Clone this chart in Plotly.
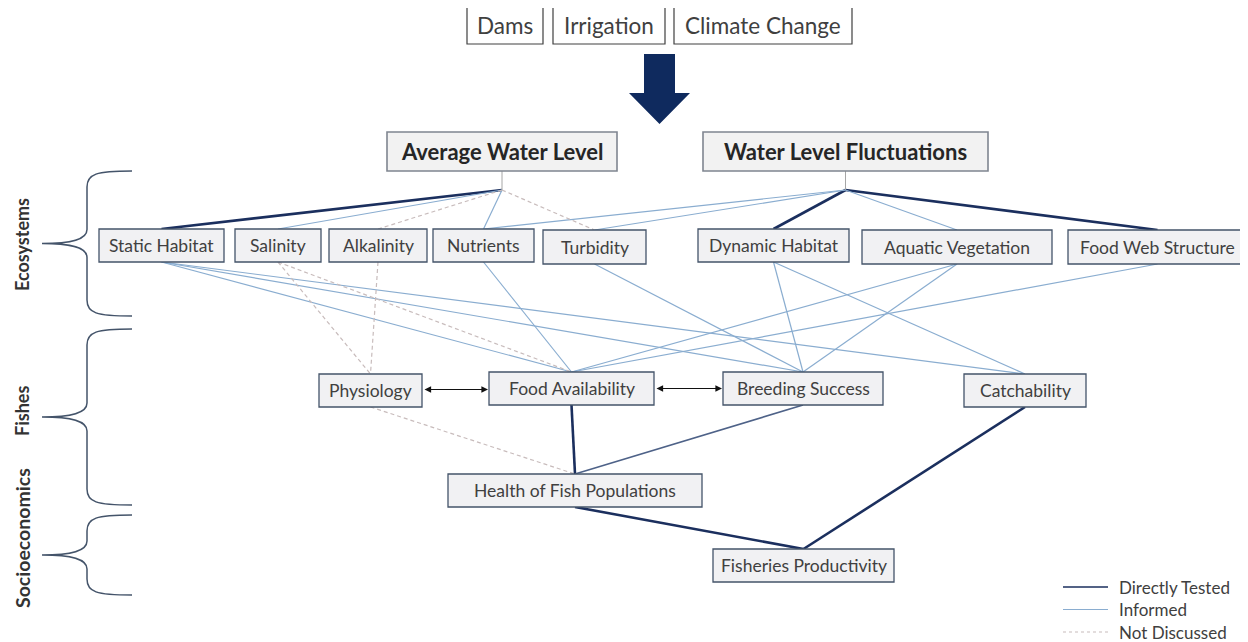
import plotly.graph_objects as go

# --- data -------------------------------------------------------------------
DRIVERS = ["Dams", "Irrigation", "Climate Change"]
HEADERS = ["Average Water Level", "Water Level Fluctuations"]
ECOSYSTEM_NODES = ["Static Habitat", "Salinity", "Alkalinity", "Nutrients", "Turbidity",
                   "Dynamic Habitat", "Aquatic Vegetation", "Food Web Structure"]
FISH_NODES = ["Physiology", "Food Availability", "Breeding Success", "Catchability",
              "Health of Fish Populations"]
SOCIO_NODES = ["Fisheries Productivity"]
GROUPS = ["Ecosystems", "Fishes", "Socioeconomics"]
LEGEND_KINDS = ["direct", "informed", "none"]
LEGEND_NAMES = {"direct": "Directly Tested", "informed": "Informed", "none": "Not Discussed"}

EDGES = [
    ("Average Water Level", "Static Habitat", "direct"),
    ("Average Water Level", "Salinity", "informed"),
    ("Average Water Level", "Alkalinity", "none"),
    ("Average Water Level", "Nutrients", "informed"),
    ("Average Water Level", "Turbidity", "none"),
    ("Water Level Fluctuations", "Nutrients", "informed"),
    ("Water Level Fluctuations", "Turbidity", "informed"),
    ("Water Level Fluctuations", "Dynamic Habitat", "direct"),
    ("Water Level Fluctuations", "Aquatic Vegetation", "informed"),
    ("Water Level Fluctuations", "Food Web Structure", "direct"),
    ("Static Habitat", "Food Availability", "informed"),
    ("Static Habitat", "Breeding Success", "informed"),
    ("Static Habitat", "Catchability", "informed"),
    ("Salinity", "Physiology", "none"),
    ("Salinity", "Food Availability", "none"),
    ("Alkalinity", "Physiology", "none"),
    ("Nutrients", "Food Availability", "informed"),
    ("Turbidity", "Breeding Success", "informed"),
    ("Dynamic Habitat", "Breeding Success", "informed"),
    ("Dynamic Habitat", "Catchability", "informed"),
    ("Aquatic Vegetation", "Food Availability", "informed"),
    ("Aquatic Vegetation", "Breeding Success", "informed"),
    ("Food Web Structure", "Food Availability", "informed"),
    ("Physiology", "Health of Fish Populations", "none"),
    ("Food Availability", "Health of Fish Populations", "direct"),
    ("Breeding Success", "Health of Fish Populations", "direct_light"),
    ("Health of Fish Populations", "Fisheries Productivity", "direct"),
    ("Catchability", "Fisheries Productivity", "direct"),
]
FEEDBACKS = [("Physiology", "Food Availability"), ("Food Availability", "Breeding Success")]

# --- layout (page pixel space, y downwards; page body has an 8px margin) -----
PAGE_W, PAGE_H, BODY = 1248, 642, 8
BOXES = {
    "Dams": (467, 7, 543, 44),
    "Irrigation": (553, 7, 665, 44),
    "Climate Change": (674, 7, 852, 44),
    "Average Water Level": (387, 132, 617, 171),
    "Water Level Fluctuations": (703, 132, 988, 171),
    "Static Habitat": (99, 229, 224, 262),
    "Salinity": (235, 229, 321, 262),
    "Alkalinity": (329, 229, 427, 262),
    "Nutrients": (433, 229, 534, 262),
    "Turbidity": (543, 230, 646, 264),
    "Dynamic Habitat": (698, 229, 849, 262),
    "Aquatic Vegetation": (862, 230, 1052, 264),
    "Food Web Structure": (1068, 230, 1247, 264),
    "Physiology": (319, 374, 422, 407),
    "Food Availability": (489, 372, 654, 405),
    "Breeding Success": (723, 372, 883, 405),
    "Catchability": (964, 374, 1086, 407),
    "Health of Fish Populations": (448, 474, 702, 507),
    "Fisheries Productivity": (713, 549, 894, 582),
}
HUB_DROP = 19
BRACES = {"Ecosystems": (171, 316), "Fishes": (329, 505), "Socioeconomics": (515, 595)}
GROUP_LABEL_Y = {"Ecosystems": 245, "Fishes": 411, "Socioeconomics": 538}
GROUP_FONT = {"Ecosystems": 18, "Fishes": 18, "Socioeconomics": 19.5}
LEGEND_X0, LEGEND_X1, LEGEND_TEXT_X = 1063, 1108, 1117
LEGEND_ROWS_Y = [587, 609.5, 632]

STYLE = {
    "direct": dict(color="#1B2F5E", width=2.6, dash="solid"),
    "direct_light": dict(color="#4E6288", width=1.6, dash="solid"),
    "informed": dict(color="#8AADD0", width=1.2, dash="solid"),
    "none": dict(color="#C8BCBC", width=1.2, dash="4px,3px"),
}
TEXT = "#404040"
FONT = "Lato"


def top(n):
    x0, y0, x1, y1 = BOXES[n]
    return (x0 + x1) / 2, y0


def bottom(n):
    x0, y0, x1, y1 = BOXES[n]
    if n in HEADERS:
        return (x0 + x1) / 2, y1 + HUB_DROP
    return (x0 + x1) / 2, y1


fig = go.Figure()

# edges
for kind, st in STYLE.items():
    xs, ys = [], []
    for a, b, k in EDGES:
        if k != kind:
            continue
        (xa, ya), (xb, yb) = bottom(a), top(b)
        xs += [xa, xb, None]
        ys += [ya, yb, None]
    fig.add_trace(go.Scatter(
        x=xs, y=ys, mode="lines", line=st, hoverinfo="skip",
        name=LEGEND_NAMES.get(kind, kind), showlegend=False,
    ))

shapes = []
annotations = []

# hub stems
for h in HEADERS:
    x0, y0, x1, y1 = BOXES[h]
    cx = (x0 + x1) / 2
    shapes.append(dict(type="line", x0=cx, x1=cx, y0=y1, y1=y1 + HUB_DROP,
                       line=dict(color="#A6A6A6", width=1)))

# boxes + labels
for name, (x0, y0, x1, y1) in BOXES.items():
    if name in DRIVERS:
        fill, border, bw, size, bold = "#FFFFFF", "#404040", 1.2, 22.5, False
    elif name in HEADERS:
        fill, border, bw, size, bold = "#F2F2F2", "#7F8590", 1.6, 22, True
    else:
        fill, border, bw, size, bold = "#F1F1F3", "#44546A", 1.3, 17.5, False
    shapes.append(dict(type="rect", x0=x0, x1=x1, y0=y0, y1=y1, layer="above",
                       fillcolor=fill, line=dict(color=border, width=bw)))
    label = f"<b>{name}</b>" if bold else name
    annotations.append(dict(x=(x0 + x1) / 2, y=(y0 + y1) / 2, text=label, showarrow=False,
                            font=dict(family=FONT, size=size, color="#262626" if bold else TEXT)))

# big arrow
shapes.append(dict(type="path", path="M 644,54 L 675,54 L 675,93 L 690,93 L 659.5,124 L 629,93 L 644,93 Z",
                   fillcolor="#0F2A5E", line=dict(width=0), layer="above"))

# feedback double arrows
for a, b in FEEDBACKS:
    ax0, ay0, ax1, ay1 = BOXES[a]
    bx0, by0, bx1, by1 = BOXES[b]
    yy = (ay0 + ay1 + by0 + by1) / 4
    annotations.append(dict(x=bx0 - 1, y=yy, ax=ax1 + 1, ay=yy, xref="x", yref="y",
                            axref="x", ayref="y", text="", showarrow=True,
                            arrowhead=2, startarrowhead=2, arrowside="end+start",
                            arrowsize=1.1, startarrowsize=1.1, arrowwidth=1.2, arrowcolor="#111111"))

# group braces
for g in GROUPS:
    t, b = BRACES[g]
    m = (t + b) / 2
    path = (f"M 132,{t} C 96,{t} 87,{t + 3} 87,{t + 16} L 87,{m - 14} "
            f"C 87,{m - 4} 72,{m} 42,{m} C 72,{m} 87,{m + 4} 87,{m + 14} "
            f"L 87,{b - 16} C 87,{b - 3} 96,{b} 132,{b}")
    shapes.append(dict(type="path", path=path, line=dict(color="#44546A", width=1.5)))
    annotations.append(dict(x=22, y=GROUP_LABEL_Y[g], text=f"<b>{g}</b>", textangle=-90,
                            showarrow=False,
                            font=dict(family=FONT, size=GROUP_FONT[g], color="#333333")))

# legend (drawn by hand so it does not push the plot margins)
for kind, ly in zip(LEGEND_KINDS, LEGEND_ROWS_Y):
    st = STYLE[kind]
    shapes.append(dict(type="line", x0=LEGEND_X0, x1=LEGEND_X1, y0=ly, y1=ly,
                       line=dict(color=st["color"], width=min(st["width"], 1.6),
                                 dash="dot" if kind == "none" else "solid")))
    annotations.append(dict(x=LEGEND_TEXT_X, y=ly, text=LEGEND_NAMES[kind], showarrow=False,
                            xanchor="left", font=dict(family=FONT, size=17, color=TEXT)))

plot_w, plot_h = PAGE_W - BODY, PAGE_H - BODY
fig.update_layout(
    width=plot_w, height=plot_h,
    margin=dict(l=0, r=0, t=0, b=0),
    paper_bgcolor="white", plot_bgcolor="white",
    xaxis=dict(range=[BODY, PAGE_W], visible=False, fixedrange=True),
    yaxis=dict(range=[PAGE_H, BODY], visible=False, fixedrange=True),
    shapes=shapes, annotations=annotations,
    showlegend=False,
)

fig.write_html("out.html")
